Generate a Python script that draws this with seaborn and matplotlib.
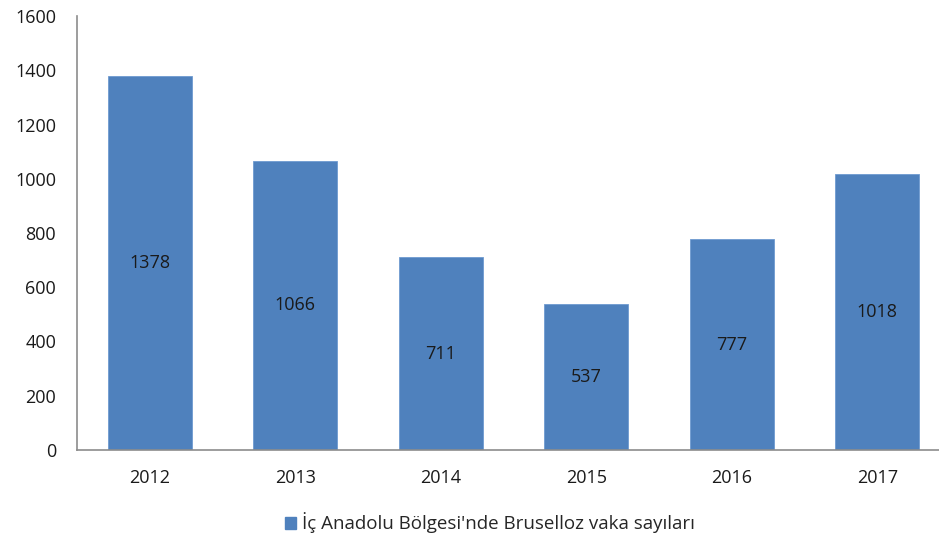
import matplotlib
matplotlib.use("Agg")
import matplotlib.pyplot as plt
import seaborn as sns
import pandas as pd
from matplotlib.patches import Patch

years = ["2012", "2013", "2014", "2015", "2016", "2017"]
cases = [1378, 1066, 711, 537, 777, 1018]
series_name = "İç Anadolu Bölgesi'nde Bruselloz vaka sayıları"

df = pd.DataFrame({"year": years, "cases": cases})

sns.set_style("white")
plt.rcParams['font.family'] = ['Open Sans', 'DejaVu Sans']

fig = plt.figure(figsize=(9.39, 5.38), dpi=100)
ax = fig.add_axes([77/939, 88/538, 873/939, 434/538])

color = "#4F81BD"
sns.barplot(data=df, x="year", y="cases", color=color, width=0.58,
            saturation=1, ax=ax, edgecolor="#6F9AD0", linewidth=0.6)

for i, v in enumerate(cases):
    ax.text(i, v / 2, str(v), ha="center", va="center", fontsize=13, color="#1a1a1a")

ax.set_ylim(0, 1600)
ax.set_yticks(range(0, 1601, 200))
ax.set_xlim(-0.5, 5.5)
ax.set_xlabel("")
ax.set_ylabel("")
ax.tick_params(axis="both", length=0, labelsize=13, colors="#1a1a1a")
ax.tick_params(axis="y", pad=15)
ax.tick_params(axis="x", pad=14)
for s in ["top", "right"]:
    ax.spines[s].set_visible(False)
for s in ["left", "bottom"]:
    ax.spines[s].set_color("#8c8c8c")
    ax.spines[s].set_linewidth(1.2)

handle = Patch(facecolor=color, edgecolor=color)
fig.legend([handle], [series_name], loc="center", bbox_to_anchor=(490/939, 1 - 523/538),
           frameon=False, fontsize=13.5, handlelength=0.6, handleheight=0.6, handletextpad=0.3)

fig.savefig("out.png", dpi=100)
